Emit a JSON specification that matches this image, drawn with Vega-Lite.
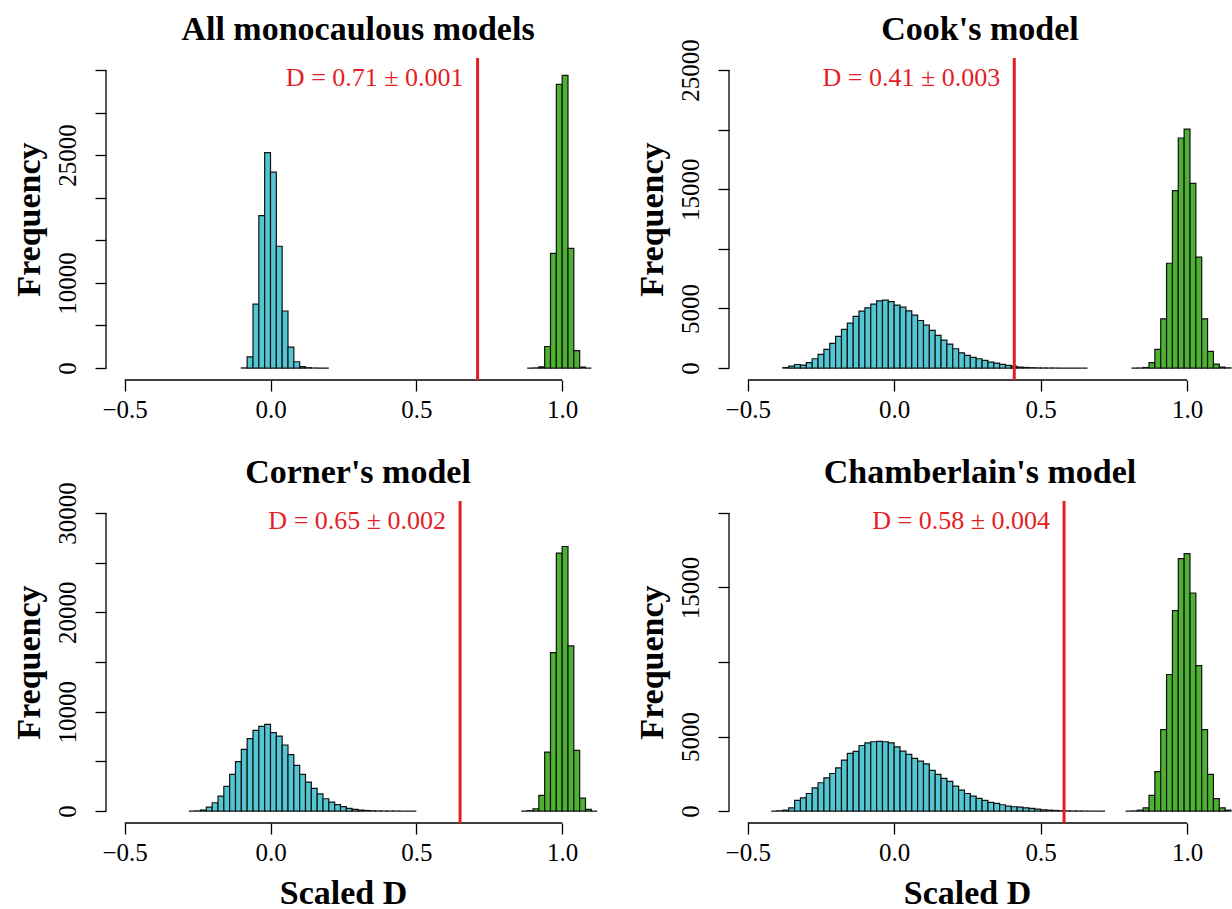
{
  "$schema": "https://vega.github.io/schema/vega-lite/v6.json",
  "padding": {"left": 12, "top": 12, "right": 0, "bottom": 0},
  "background": "white",
  "config": {
    "view": {"stroke": null},
    "font": "Liberation Serif",
    "axis": {"grid": false, "domain": false, "tickColor": "#000", "tickWidth": 1.3, "tickSize": 11, "labelFont": "Liberation Serif", "labelFontSize": 25, "labelColor": "#000", "titleFont": "Liberation Serif", "titleFontSize": 34, "titleFontWeight": "bold", "titleColor": "#000", "labelOverlap": false, "labelFlush": false},
    "axisX": {"labelPadding": 6, "labelBaseline": "top", "labelAlign": "center", "labelAngle": 0},
    "axisY": {"titleAngle": -90, "titleX": -67, "titleY": 161, "titleAlign": "center", "titleBaseline": "alphabetic"},
    "title": {"font": "Liberation Serif", "fontSize": 34, "fontWeight": "bold", "color": "#000", "baseline": "alphabetic", "offset": 10, "anchor": "middle", "frame": "group"}
  },
  "datasets": {
    "all": [
      {"x0": -0.10, "x1": -0.08, "n": 20, "dist": "random"},
      {"x0": -0.08, "x1": -0.06, "n": 1320, "dist": "random"},
      {"x0": -0.06, "x1": -0.04, "n": 7500, "dist": "random"},
      {"x0": -0.04, "x1": -0.02, "n": 17900, "dist": "random"},
      {"x0": -0.02, "x1": 0.00, "n": 25300, "dist": "random"},
      {"x0": 0.00, "x1": 0.02, "n": 23000, "dist": "random"},
      {"x0": 0.02, "x1": 0.04, "n": 14300, "dist": "random"},
      {"x0": 0.04, "x1": 0.06, "n": 6700, "dist": "random"},
      {"x0": 0.06, "x1": 0.08, "n": 2450, "dist": "random"},
      {"x0": 0.08, "x1": 0.10, "n": 740, "dist": "random"},
      {"x0": 0.10, "x1": 0.12, "n": 180, "dist": "random"},
      {"x0": 0.12, "x1": 0.14, "n": 40, "dist": "random"},
      {"x0": 0.14, "x1": 0.16, "n": 10, "dist": "random"},
      {"x0": 0.16, "x1": 0.18, "n": 0, "dist": "random"},
      {"x0": 0.18, "x1": 0.20, "n": 0, "dist": "random"},
      {"x0": 0.88, "x1": 0.90, "n": 0, "dist": "brownian"},
      {"x0": 0.90, "x1": 0.92, "n": 20, "dist": "brownian"},
      {"x0": 0.92, "x1": 0.94, "n": 150, "dist": "brownian"},
      {"x0": 0.94, "x1": 0.96, "n": 2530, "dist": "brownian"},
      {"x0": 0.96, "x1": 0.98, "n": 13470, "dist": "brownian"},
      {"x0": 0.98, "x1": 1.00, "n": 33300, "dist": "brownian"},
      {"x0": 1.00, "x1": 1.02, "n": 34350, "dist": "brownian"},
      {"x0": 1.02, "x1": 1.04, "n": 14050, "dist": "brownian"},
      {"x0": 1.04, "x1": 1.06, "n": 2060, "dist": "brownian"},
      {"x0": 1.06, "x1": 1.08, "n": 120, "dist": "brownian"},
      {"x0": 1.08, "x1": 1.10, "n": 0, "dist": "brownian"}
    ],
    "cook": [
      {"x0": -0.38, "x1": -0.36, "n": 40, "dist": "random"},
      {"x0": -0.36, "x1": -0.34, "n": 170, "dist": "random"},
      {"x0": -0.34, "x1": -0.32, "n": 300, "dist": "random"},
      {"x0": -0.32, "x1": -0.30, "n": 250, "dist": "random"},
      {"x0": -0.30, "x1": -0.28, "n": 450, "dist": "random"},
      {"x0": -0.28, "x1": -0.26, "n": 780, "dist": "random"},
      {"x0": -0.26, "x1": -0.24, "n": 1150, "dist": "random"},
      {"x0": -0.24, "x1": -0.22, "n": 1560, "dist": "random"},
      {"x0": -0.22, "x1": -0.20, "n": 2070, "dist": "random"},
      {"x0": -0.20, "x1": -0.18, "n": 2650, "dist": "random"},
      {"x0": -0.18, "x1": -0.16, "n": 3240, "dist": "random"},
      {"x0": -0.16, "x1": -0.14, "n": 3770, "dist": "random"},
      {"x0": -0.14, "x1": -0.12, "n": 4330, "dist": "random"},
      {"x0": -0.12, "x1": -0.10, "n": 4770, "dist": "random"},
      {"x0": -0.10, "x1": -0.08, "n": 5050, "dist": "random"},
      {"x0": -0.08, "x1": -0.06, "n": 5360, "dist": "random"},
      {"x0": -0.06, "x1": -0.04, "n": 5640, "dist": "random"},
      {"x0": -0.04, "x1": -0.02, "n": 5690, "dist": "random"},
      {"x0": -0.02, "x1": 0.00, "n": 5580, "dist": "random"},
      {"x0": 0.00, "x1": 0.02, "n": 5280, "dist": "random"},
      {"x0": 0.02, "x1": 0.04, "n": 5110, "dist": "random"},
      {"x0": 0.04, "x1": 0.06, "n": 4800, "dist": "random"},
      {"x0": 0.06, "x1": 0.08, "n": 4440, "dist": "random"},
      {"x0": 0.08, "x1": 0.10, "n": 3990, "dist": "random"},
      {"x0": 0.10, "x1": 0.12, "n": 3600, "dist": "random"},
      {"x0": 0.12, "x1": 0.14, "n": 3160, "dist": "random"},
      {"x0": 0.14, "x1": 0.16, "n": 2740, "dist": "random"},
      {"x0": 0.16, "x1": 0.18, "n": 2340, "dist": "random"},
      {"x0": 0.18, "x1": 0.20, "n": 2010, "dist": "random"},
      {"x0": 0.20, "x1": 0.22, "n": 1620, "dist": "random"},
      {"x0": 0.22, "x1": 0.24, "n": 1280, "dist": "random"},
      {"x0": 0.24, "x1": 0.26, "n": 1060, "dist": "random"},
      {"x0": 0.26, "x1": 0.28, "n": 900, "dist": "random"},
      {"x0": 0.28, "x1": 0.30, "n": 780, "dist": "random"},
      {"x0": 0.30, "x1": 0.32, "n": 640, "dist": "random"},
      {"x0": 0.32, "x1": 0.34, "n": 500, "dist": "random"},
      {"x0": 0.34, "x1": 0.36, "n": 420, "dist": "random"},
      {"x0": 0.36, "x1": 0.38, "n": 310, "dist": "random"},
      {"x0": 0.38, "x1": 0.40, "n": 220, "dist": "random"},
      {"x0": 0.40, "x1": 0.42, "n": 140, "dist": "random"},
      {"x0": 0.42, "x1": 0.44, "n": 80, "dist": "random"},
      {"x0": 0.44, "x1": 0.46, "n": 50, "dist": "random"},
      {"x0": 0.46, "x1": 0.48, "n": 30, "dist": "random"},
      {"x0": 0.48, "x1": 0.50, "n": 15, "dist": "random"},
      {"x0": 0.50, "x1": 0.52, "n": 10, "dist": "random"},
      {"x0": 0.52, "x1": 0.54, "n": 5, "dist": "random"},
      {"x0": 0.54, "x1": 0.56, "n": 3, "dist": "random"},
      {"x0": 0.56, "x1": 0.58, "n": 0, "dist": "random"},
      {"x0": 0.58, "x1": 0.60, "n": 0, "dist": "random"},
      {"x0": 0.60, "x1": 0.62, "n": 0, "dist": "random"},
      {"x0": 0.62, "x1": 0.64, "n": 0, "dist": "random"},
      {"x0": 0.64, "x1": 0.66, "n": 0, "dist": "random"},
      {"x0": 0.81, "x1": 0.83, "n": 0, "dist": "brownian"},
      {"x0": 0.83, "x1": 0.85, "n": 10, "dist": "brownian"},
      {"x0": 0.85, "x1": 0.87, "n": 50, "dist": "brownian"},
      {"x0": 0.87, "x1": 0.89, "n": 450, "dist": "brownian"},
      {"x0": 0.89, "x1": 0.91, "n": 1560, "dist": "brownian"},
      {"x0": 0.91, "x1": 0.93, "n": 4130, "dist": "brownian"},
      {"x0": 0.93, "x1": 0.95, "n": 8790, "dist": "brownian"},
      {"x0": 0.95, "x1": 0.97, "n": 14880, "dist": "brownian"},
      {"x0": 0.97, "x1": 0.99, "n": 19290, "dist": "brownian"},
      {"x0": 0.99, "x1": 1.01, "n": 20040, "dist": "brownian"},
      {"x0": 1.01, "x1": 1.03, "n": 15490, "dist": "brownian"},
      {"x0": 1.03, "x1": 1.05, "n": 9300, "dist": "brownian"},
      {"x0": 1.05, "x1": 1.07, "n": 4130, "dist": "brownian"},
      {"x0": 1.07, "x1": 1.09, "n": 1400, "dist": "brownian"},
      {"x0": 1.09, "x1": 1.11, "n": 335, "dist": "brownian"},
      {"x0": 1.11, "x1": 1.13, "n": 80, "dist": "brownian"},
      {"x0": 1.13, "x1": 1.15, "n": 20, "dist": "brownian"}
    ],
    "corner": [
      {"x0": -0.28, "x1": -0.26, "n": 0, "dist": "random"},
      {"x0": -0.26, "x1": -0.24, "n": 20, "dist": "random"},
      {"x0": -0.24, "x1": -0.22, "n": 100, "dist": "random"},
      {"x0": -0.22, "x1": -0.20, "n": 400, "dist": "random"},
      {"x0": -0.20, "x1": -0.18, "n": 840, "dist": "random"},
      {"x0": -0.18, "x1": -0.16, "n": 1510, "dist": "random"},
      {"x0": -0.16, "x1": -0.14, "n": 2480, "dist": "random"},
      {"x0": -0.14, "x1": -0.12, "n": 3690, "dist": "random"},
      {"x0": -0.12, "x1": -0.10, "n": 4970, "dist": "random"},
      {"x0": -0.10, "x1": -0.08, "n": 6210, "dist": "random"},
      {"x0": -0.08, "x1": -0.06, "n": 7280, "dist": "random"},
      {"x0": -0.06, "x1": -0.04, "n": 8120, "dist": "random"},
      {"x0": -0.04, "x1": -0.02, "n": 8530, "dist": "random"},
      {"x0": -0.02, "x1": 0.00, "n": 8730, "dist": "random"},
      {"x0": 0.00, "x1": 0.02, "n": 7890, "dist": "random"},
      {"x0": 0.02, "x1": 0.04, "n": 7550, "dist": "random"},
      {"x0": 0.04, "x1": 0.06, "n": 6650, "dist": "random"},
      {"x0": 0.06, "x1": 0.08, "n": 5670, "dist": "random"},
      {"x0": 0.08, "x1": 0.10, "n": 4600, "dist": "random"},
      {"x0": 0.10, "x1": 0.12, "n": 3690, "dist": "random"},
      {"x0": 0.12, "x1": 0.14, "n": 2920, "dist": "random"},
      {"x0": 0.14, "x1": 0.16, "n": 2280, "dist": "random"},
      {"x0": 0.16, "x1": 0.18, "n": 1740, "dist": "random"},
      {"x0": 0.18, "x1": 0.20, "n": 1240, "dist": "random"},
      {"x0": 0.20, "x1": 0.22, "n": 900, "dist": "random"},
      {"x0": 0.22, "x1": 0.24, "n": 640, "dist": "random"},
      {"x0": 0.24, "x1": 0.26, "n": 440, "dist": "random"},
      {"x0": 0.26, "x1": 0.28, "n": 270, "dist": "random"},
      {"x0": 0.28, "x1": 0.30, "n": 170, "dist": "random"},
      {"x0": 0.30, "x1": 0.32, "n": 100, "dist": "random"},
      {"x0": 0.32, "x1": 0.34, "n": 60, "dist": "random"},
      {"x0": 0.34, "x1": 0.36, "n": 30, "dist": "random"},
      {"x0": 0.36, "x1": 0.38, "n": 15, "dist": "random"},
      {"x0": 0.38, "x1": 0.40, "n": 8, "dist": "random"},
      {"x0": 0.40, "x1": 0.42, "n": 4, "dist": "random"},
      {"x0": 0.42, "x1": 0.44, "n": 2, "dist": "random"},
      {"x0": 0.44, "x1": 0.46, "n": 0, "dist": "random"},
      {"x0": 0.46, "x1": 0.48, "n": 0, "dist": "random"},
      {"x0": 0.48, "x1": 0.50, "n": 0, "dist": "random"},
      {"x0": 0.86, "x1": 0.88, "n": 0, "dist": "brownian"},
      {"x0": 0.88, "x1": 0.90, "n": 40, "dist": "brownian"},
      {"x0": 0.90, "x1": 0.92, "n": 235, "dist": "brownian"},
      {"x0": 0.92, "x1": 0.94, "n": 1580, "dist": "brownian"},
      {"x0": 0.94, "x1": 0.96, "n": 5940, "dist": "brownian"},
      {"x0": 0.96, "x1": 0.98, "n": 15940, "dist": "brownian"},
      {"x0": 0.98, "x1": 1.00, "n": 25950, "dist": "brownian"},
      {"x0": 1.00, "x1": 1.02, "n": 26620, "dist": "brownian"},
      {"x0": 1.02, "x1": 1.04, "n": 16620, "dist": "brownian"},
      {"x0": 1.04, "x1": 1.06, "n": 6110, "dist": "brownian"},
      {"x0": 1.06, "x1": 1.08, "n": 1310, "dist": "brownian"},
      {"x0": 1.08, "x1": 1.10, "n": 170, "dist": "brownian"},
      {"x0": 1.10, "x1": 1.12, "n": 0, "dist": "brownian"}
    ],
    "chamberlain": [
      {"x0": -0.42, "x1": -0.40, "n": 0, "dist": "random"},
      {"x0": -0.40, "x1": -0.38, "n": 20, "dist": "random"},
      {"x0": -0.38, "x1": -0.36, "n": 60, "dist": "random"},
      {"x0": -0.36, "x1": -0.34, "n": 220, "dist": "random"},
      {"x0": -0.34, "x1": -0.32, "n": 715, "dist": "random"},
      {"x0": -0.32, "x1": -0.30, "n": 890, "dist": "random"},
      {"x0": -0.30, "x1": -0.28, "n": 1180, "dist": "random"},
      {"x0": -0.28, "x1": -0.26, "n": 1560, "dist": "random"},
      {"x0": -0.26, "x1": -0.24, "n": 1900, "dist": "random"},
      {"x0": -0.24, "x1": -0.22, "n": 2230, "dist": "random"},
      {"x0": -0.22, "x1": -0.20, "n": 2520, "dist": "random"},
      {"x0": -0.20, "x1": -0.18, "n": 2900, "dist": "random"},
      {"x0": -0.18, "x1": -0.16, "n": 3420, "dist": "random"},
      {"x0": -0.16, "x1": -0.14, "n": 3870, "dist": "random"},
      {"x0": -0.14, "x1": -0.12, "n": 4000, "dist": "random"},
      {"x0": -0.12, "x1": -0.10, "n": 4400, "dist": "random"},
      {"x0": -0.10, "x1": -0.08, "n": 4580, "dist": "random"},
      {"x0": -0.08, "x1": -0.06, "n": 4650, "dist": "random"},
      {"x0": -0.06, "x1": -0.04, "n": 4670, "dist": "random"},
      {"x0": -0.04, "x1": -0.02, "n": 4650, "dist": "random"},
      {"x0": -0.02, "x1": 0.00, "n": 4580, "dist": "random"},
      {"x0": 0.00, "x1": 0.02, "n": 4310, "dist": "random"},
      {"x0": 0.02, "x1": 0.04, "n": 4020, "dist": "random"},
      {"x0": 0.04, "x1": 0.06, "n": 3800, "dist": "random"},
      {"x0": 0.06, "x1": 0.08, "n": 3530, "dist": "random"},
      {"x0": 0.08, "x1": 0.10, "n": 3350, "dist": "random"},
      {"x0": 0.10, "x1": 0.12, "n": 3170, "dist": "random"},
      {"x0": 0.12, "x1": 0.14, "n": 2730, "dist": "random"},
      {"x0": 0.14, "x1": 0.16, "n": 2460, "dist": "random"},
      {"x0": 0.16, "x1": 0.18, "n": 2190, "dist": "random"},
      {"x0": 0.18, "x1": 0.20, "n": 1990, "dist": "random"},
      {"x0": 0.20, "x1": 0.22, "n": 1680, "dist": "random"},
      {"x0": 0.22, "x1": 0.24, "n": 1410, "dist": "random"},
      {"x0": 0.24, "x1": 0.26, "n": 1180, "dist": "random"},
      {"x0": 0.26, "x1": 0.28, "n": 1005, "dist": "random"},
      {"x0": 0.28, "x1": 0.30, "n": 850, "dist": "random"},
      {"x0": 0.30, "x1": 0.32, "n": 715, "dist": "random"},
      {"x0": 0.32, "x1": 0.34, "n": 580, "dist": "random"},
      {"x0": 0.34, "x1": 0.36, "n": 510, "dist": "random"},
      {"x0": 0.36, "x1": 0.38, "n": 425, "dist": "random"},
      {"x0": 0.38, "x1": 0.40, "n": 335, "dist": "random"},
      {"x0": 0.40, "x1": 0.42, "n": 290, "dist": "random"},
      {"x0": 0.42, "x1": 0.44, "n": 270, "dist": "random"},
      {"x0": 0.44, "x1": 0.46, "n": 220, "dist": "random"},
      {"x0": 0.46, "x1": 0.48, "n": 180, "dist": "random"},
      {"x0": 0.48, "x1": 0.50, "n": 130, "dist": "random"},
      {"x0": 0.50, "x1": 0.52, "n": 90, "dist": "random"},
      {"x0": 0.52, "x1": 0.54, "n": 60, "dist": "random"},
      {"x0": 0.54, "x1": 0.56, "n": 40, "dist": "random"},
      {"x0": 0.56, "x1": 0.58, "n": 25, "dist": "random"},
      {"x0": 0.58, "x1": 0.60, "n": 15, "dist": "random"},
      {"x0": 0.60, "x1": 0.62, "n": 8, "dist": "random"},
      {"x0": 0.62, "x1": 0.64, "n": 5, "dist": "random"},
      {"x0": 0.64, "x1": 0.66, "n": 3, "dist": "random"},
      {"x0": 0.66, "x1": 0.68, "n": 0, "dist": "random"},
      {"x0": 0.68, "x1": 0.70, "n": 0, "dist": "random"},
      {"x0": 0.70, "x1": 0.72, "n": 0, "dist": "random"},
      {"x0": 0.79, "x1": 0.81, "n": 0, "dist": "brownian"},
      {"x0": 0.81, "x1": 0.83, "n": 10, "dist": "brownian"},
      {"x0": 0.83, "x1": 0.85, "n": 60, "dist": "brownian"},
      {"x0": 0.85, "x1": 0.87, "n": 220, "dist": "brownian"},
      {"x0": 0.87, "x1": 0.89, "n": 1050, "dist": "brownian"},
      {"x0": 0.89, "x1": 0.91, "n": 2640, "dist": "brownian"},
      {"x0": 0.91, "x1": 0.93, "n": 5470, "dist": "brownian"},
      {"x0": 0.93, "x1": 0.95, "n": 9160, "dist": "brownian"},
      {"x0": 0.95, "x1": 0.97, "n": 13450, "dist": "brownian"},
      {"x0": 0.97, "x1": 0.99, "n": 16930, "dist": "brownian"},
      {"x0": 0.99, "x1": 1.01, "n": 17270, "dist": "brownian"},
      {"x0": 1.01, "x1": 1.03, "n": 14630, "dist": "brownian"},
      {"x0": 1.03, "x1": 1.05, "n": 9760, "dist": "brownian"},
      {"x0": 1.05, "x1": 1.07, "n": 5470, "dist": "brownian"},
      {"x0": 1.07, "x1": 1.09, "n": 2460, "dist": "brownian"},
      {"x0": 1.09, "x1": 1.11, "n": 830, "dist": "brownian"},
      {"x0": 1.11, "x1": 1.13, "n": 220, "dist": "brownian"},
      {"x0": 1.13, "x1": 1.15, "n": 60, "dist": "brownian"}
    ]
  },
  "columns": 2,
  "spacing": {"row": 121, "column": 119},
  "bounds": "flush",
  "concat": [
    {
      "width": 504, "height": 322,
      "title": {"text": "All monocaulous models"},
      "layer": [
        {"data": {"name": "all"}, "mark": {"type": "rect", "stroke": "#111", "strokeWidth": 1.2},
         "encoding": {
           "x": {"field": "x0", "type": "quantitative", "scale": {"domain": [-0.564, 1.164], "nice": false, "zero": false}, "axis": {"values": [-0.5, 0, 0.5, 1], "format": ".1f", "title": null}},
           "x2": {"field": "x1"},
           "y": {"field": "n", "type": "quantitative", "scale": {"domain": [-1400, 36400], "nice": false, "zero": false}, "axis": {"title": "Frequency", "values": [0, 5000, 10000, 15000, 20000, 25000, 30000, 35000], "format": "d", "labelAngle": -90, "labelAlign": "center", "labelBaseline": "alphabetic", "labelPadding": 20, "labelExpr": "indexof([0, 10000, 25000], datum.value) >= 0 ? datum.label : ''"}},
           "y2": {"datum": 0},
           "fill": {"field": "dist", "type": "nominal", "scale": {"domain": ["random", "brownian"], "range": ["#52c7d3", "#4db232"]}, "legend": null}
         }},
        {"data": {"values": [{}]}, "mark": {"type": "rule", "color": "#000", "strokeWidth": 1.3}, "encoding": {"x": {"datum": -0.5}, "x2": {"datum": 1.0}, "y": {"datum": -1400}}},
        {"data": {"values": [{}]}, "mark": {"type": "rule", "color": "#000", "strokeWidth": 1.3}, "encoding": {"x": {"datum": -0.564}, "y": {"datum": 0}, "y2": {"datum": 35000}}},
        {"data": {"values": [{}]}, "mark": {"type": "rule", "color": "#e41e26", "strokeWidth": 3}, "encoding": {"x": {"datum": 0.71}}},
        {"data": {"values": [{}]}, "mark": {"type": "text", "align": "right", "baseline": "middle", "dx": -14, "dy": 8, "fontSize": 26, "color": "#e41e26", "font": "Liberation Serif"}, "encoding": {"x": {"datum": 0.71}, "y": {"datum": 35000}, "text": {"value": "D = 0.71 ± 0.001"}}}
      ]
    },
    {
      "width": 502, "height": 322,
      "title": {"text": "Cook's model", "dy": 18},
      "layer": [
        {"data": {"name": "cook"}, "mark": {"type": "rect", "stroke": "#111", "strokeWidth": 1.2},
         "encoding": {
           "x": {"field": "x0", "type": "quantitative", "scale": {"domain": [-0.564, 1.15], "nice": false, "zero": false}, "axis": {"values": [-0.5, 0, 0.5, 1], "format": ".1f", "title": null}},
           "x2": {"field": "x1"},
           "y": {"field": "n", "type": "quantitative", "scale": {"domain": [-1000, 26000], "nice": false, "zero": false}, "axis": {"title": "Frequency", "values": [0, 5000, 10000, 15000, 20000, 25000], "format": "d", "labelAngle": -90, "labelAlign": "center", "labelBaseline": "alphabetic", "labelPadding": 20, "labelExpr": "indexof([0, 5000, 15000, 25000], datum.value) >= 0 ? datum.label : ''"}},
           "y2": {"datum": 0},
           "fill": {"field": "dist", "type": "nominal", "scale": {"domain": ["random", "brownian"], "range": ["#52c7d3", "#4db232"]}, "legend": null}
         }},
        {"data": {"values": [{}]}, "mark": {"type": "rule", "color": "#000", "strokeWidth": 1.3}, "encoding": {"x": {"datum": -0.5}, "x2": {"datum": 1.0}, "y": {"datum": -1000}}},
        {"data": {"values": [{}]}, "mark": {"type": "rule", "color": "#000", "strokeWidth": 1.3}, "encoding": {"x": {"datum": -0.564}, "y": {"datum": 0}, "y2": {"datum": 25000}}},
        {"data": {"values": [{}]}, "mark": {"type": "rule", "color": "#e41e26", "strokeWidth": 3}, "encoding": {"x": {"datum": 0.41}}},
        {"data": {"values": [{}]}, "mark": {"type": "text", "align": "right", "baseline": "middle", "dx": -14, "dy": 8, "fontSize": 26, "color": "#e41e26", "font": "Liberation Serif"}, "encoding": {"x": {"datum": 0.41}, "y": {"datum": 25000}, "text": {"value": "D = 0.41 ± 0.003"}}}
      ]
    },
    {
      "width": 504, "height": 322,
      "title": {"text": "Corner's model", "dy": 18},
      "layer": [
        {"data": {"name": "corner"}, "mark": {"type": "rect", "stroke": "#111", "strokeWidth": 1.2},
         "encoding": {
           "x": {"field": "x0", "type": "quantitative", "scale": {"domain": [-0.564, 1.164], "nice": false, "zero": false}, "axis": {"values": [-0.5, 0, 0.5, 1], "format": ".1f", "title": "Scaled D", "titleX": 237, "titleY": 80, "titleAlign": "center", "titleBaseline": "alphabetic"}},
           "x2": {"field": "x1"},
           "y": {"field": "n", "type": "quantitative", "scale": {"domain": [-1200, 31200], "nice": false, "zero": false}, "axis": {"title": "Frequency", "values": [0, 5000, 10000, 15000, 20000, 25000, 30000], "format": "d", "labelAngle": -90, "labelAlign": "center", "labelBaseline": "alphabetic", "labelPadding": 20, "labelExpr": "indexof([0, 10000, 20000, 30000], datum.value) >= 0 ? datum.label : ''"}},
           "y2": {"datum": 0},
           "fill": {"field": "dist", "type": "nominal", "scale": {"domain": ["random", "brownian"], "range": ["#52c7d3", "#4db232"]}, "legend": null}
         }},
        {"data": {"values": [{}]}, "mark": {"type": "rule", "color": "#000", "strokeWidth": 1.3}, "encoding": {"x": {"datum": -0.5}, "x2": {"datum": 1.0}, "y": {"datum": -1200}}},
        {"data": {"values": [{}]}, "mark": {"type": "rule", "color": "#000", "strokeWidth": 1.3}, "encoding": {"x": {"datum": -0.564}, "y": {"datum": 0}, "y2": {"datum": 30000}}},
        {"data": {"values": [{}]}, "mark": {"type": "rule", "color": "#e41e26", "strokeWidth": 3}, "encoding": {"x": {"datum": 0.65}}},
        {"data": {"values": [{}]}, "mark": {"type": "text", "align": "right", "baseline": "middle", "dx": -14, "dy": 8, "fontSize": 26, "color": "#e41e26", "font": "Liberation Serif"}, "encoding": {"x": {"datum": 0.65}, "y": {"datum": 30000}, "text": {"value": "D = 0.65 ± 0.002"}}}
      ]
    },
    {
      "width": 502, "height": 322,
      "title": {"text": "Chamberlain's model"},
      "layer": [
        {"data": {"name": "chamberlain"}, "mark": {"type": "rect", "stroke": "#111", "strokeWidth": 1.2},
         "encoding": {
           "x": {"field": "x0", "type": "quantitative", "scale": {"domain": [-0.564, 1.15], "nice": false, "zero": false}, "axis": {"values": [-0.5, 0, 0.5, 1], "format": ".1f", "title": "Scaled D", "titleX": 238, "titleY": 80, "titleAlign": "center", "titleBaseline": "alphabetic"}},
           "x2": {"field": "x1"},
           "y": {"field": "n", "type": "quantitative", "scale": {"domain": [-800, 20800], "nice": false, "zero": false}, "axis": {"title": "Frequency", "values": [0, 5000, 10000, 15000, 20000], "format": "d", "labelAngle": -90, "labelAlign": "center", "labelBaseline": "alphabetic", "labelPadding": 20, "labelExpr": "indexof([0, 5000, 15000], datum.value) >= 0 ? datum.label : ''"}},
           "y2": {"datum": 0},
           "fill": {"field": "dist", "type": "nominal", "scale": {"domain": ["random", "brownian"], "range": ["#52c7d3", "#4db232"]}, "legend": null}
         }},
        {"data": {"values": [{}]}, "mark": {"type": "rule", "color": "#000", "strokeWidth": 1.3}, "encoding": {"x": {"datum": -0.5}, "x2": {"datum": 1.0}, "y": {"datum": -800}}},
        {"data": {"values": [{}]}, "mark": {"type": "rule", "color": "#000", "strokeWidth": 1.3}, "encoding": {"x": {"datum": -0.564}, "y": {"datum": 0}, "y2": {"datum": 20000}}},
        {"data": {"values": [{}]}, "mark": {"type": "rule", "color": "#e41e26", "strokeWidth": 3}, "encoding": {"x": {"datum": 0.58}}},
        {"data": {"values": [{}]}, "mark": {"type": "text", "align": "right", "baseline": "middle", "dx": -14, "dy": 8, "fontSize": 26, "color": "#e41e26", "font": "Liberation Serif"}, "encoding": {"x": {"datum": 0.58}, "y": {"datum": 20000}, "text": {"value": "D = 0.58 ± 0.004"}}}
      ]
    }
  ]
}
